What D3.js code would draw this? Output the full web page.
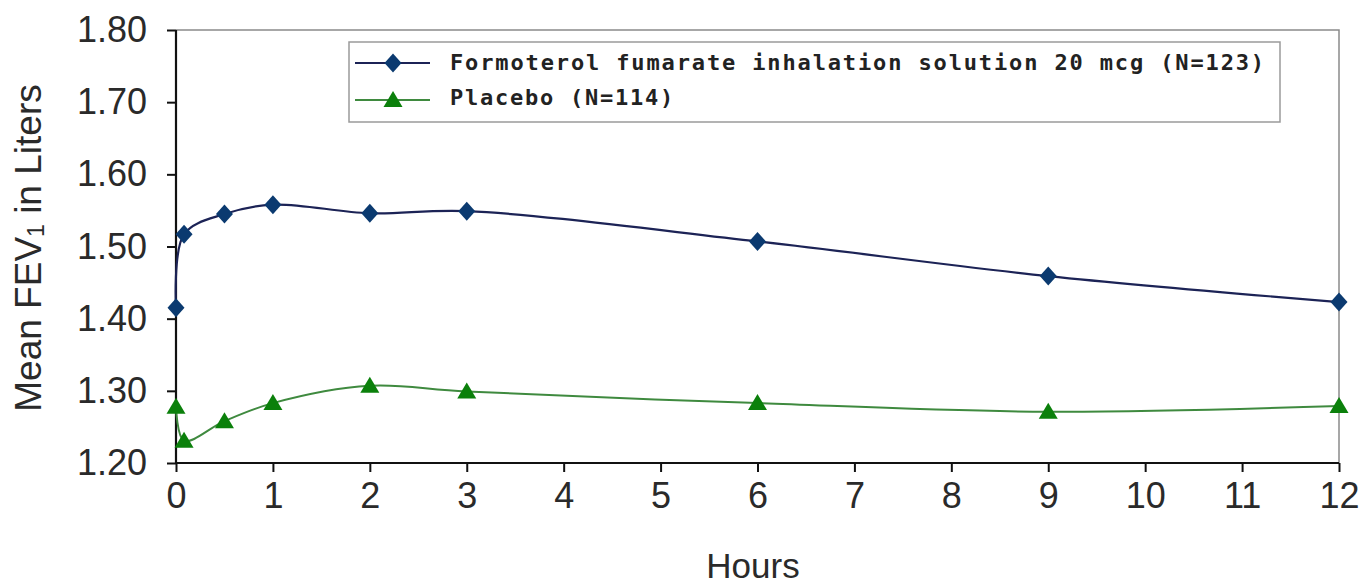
<!DOCTYPE html>
<html><head><meta charset="utf-8">
<script src="https://cdn.jsdelivr.net/npm/d3@7"></script>
<style>body{margin:0;background:#fff}svg{display:block}</style>
</head><body>
<svg id="c" width="1370" height="588"></svg>
<script>
const hours = [0, 0.083, 0.5, 1, 2, 3, 6, 9, 12];
const formoterol = [1.415, 1.517, 1.545, 1.558, 1.546, 1.549, 1.507, 1.459, 1.423];
const placebo = [1.278, 1.231, 1.258, 1.283, 1.307, 1.299, 1.283, 1.271, 1.279];
const xTicks = [0,1,2,3,4,5,6,7,8,9,10,11,12];
const yTicks = [1.20,1.30,1.40,1.50,1.60,1.70,1.80];
const seriesNames = ["Formoterol fumarate inhalation solution 20 mcg (N=123)", "Placebo (N=114)"];

const svg = d3.select("#c");
const L = 176, R = 1339, T = 30, B = 463;
const x = d3.scaleLinear().domain([0,12]).range([L,R]);
const y = d3.scaleLinear().domain([1.2,1.8]).range([B,T]);

svg.append("path").attr("d",`M${L},${T}H${R}V${B}`).attr("fill","none").attr("stroke","#8a8a8a").attr("stroke-width",1.5);

const font = "'Liberation Sans', Arial, sans-serif";
const ya = svg.append("g").attr("transform",`translate(${L},0)`)
  .call(d3.axisLeft(y).tickValues(yTicks).tickFormat(d3.format(".2f")).tickSize(9).tickPadding(20));
const xa = svg.append("g").attr("transform",`translate(0,${B})`)
  .call(d3.axisBottom(x).tickValues(xTicks).tickFormat(d3.format("d")).tickSize(9).tickPadding(10));
[ya,xa].forEach(a=>{
  a.select(".domain").attr("stroke","#111").attr("stroke-width",2.2);
  a.selectAll(".tick line").attr("stroke","#111").attr("stroke-width",2);
  a.selectAll(".tick text").attr("font-family",font).attr("font-size",36).attr("fill","#2a2a2a");
});
ya.select(".domain").attr("d",`M0,${B}V${T}`);
xa.select(".domain").attr("d",`M${L},0H${R}`);

svg.append("text").attr("x",753).attr("y",578).attr("text-anchor","middle")
  .attr("font-family",font).attr("font-size",35).attr("fill","#2a2a2a").text("Hours");
const yt = svg.append("text").attr("transform","translate(41,248) rotate(-90)").attr("text-anchor","middle")
  .attr("font-family",font).attr("font-size",37).attr("fill","#2a2a2a");
yt.append("tspan").text("Mean FEV");
yt.append("tspan").attr("font-size",23).attr("dy",3).text("1");
yt.append("tspan").attr("dy",-3).text(" in Liters");

const curve = d3.curveCatmullRom.alpha(0.5);
const line = d3.line().x(d=>x(d[0])).y(d=>y(d[1])).curve(curve);
const fData = hours.map((h,i)=>[h, formoterol[i]]);
const pData = hours.map((h,i)=>[h, placebo[i]]);
svg.append("path").attr("d",line(fData)).attr("fill","none").attr("stroke","#1c2356").attr("stroke-width",2.2);
svg.append("path").attr("d",line(pData)).attr("fill","none").attr("stroke","#3f8a3f").attr("stroke-width",2);

const diamond = "M0,-9.5L8.5,0L0,9.5L-8.5,0Z";
const tri = "M0,-9L9.5,7H-9.5Z";
svg.selectAll(".fm").data(fData).join("path").attr("class","fm")
  .attr("transform",d=>`translate(${x(d[0])},${y(d[1])})`).attr("d",diamond).attr("fill","#0b3a70");
svg.selectAll(".pm").data(pData).join("path").attr("class","pm")
  .attr("transform",d=>`translate(${x(d[0])},${y(d[1])})`).attr("d",tri).attr("fill","#0b800b");

svg.append("rect").attr("x",349).attr("y",42).attr("width",931).attr("height",80)
  .attr("fill","#fff").attr("stroke","#9a9a9a").attr("stroke-width",1.5);
const lg = [{c:"#1c2356",m:"#0b3a70",s:diamond,y:63,ty:70},{c:"#3f8a3f",m:"#0b800b",s:tri,y:100,ty:105}];
lg.forEach((d,i)=>{
  svg.append("line").attr("x1",355).attr("x2",430).attr("y1",d.y).attr("y2",d.y).attr("stroke",d.c).attr("stroke-width",2.2);
  svg.append("path").attr("transform",`translate(393,${d.y})`).attr("d",d.s).attr("fill",d.m);
  const t = svg.append("text").attr("x",450).attr("y",d.ty).attr("font-family","'DejaVu Sans Mono', monospace")
    .attr("font-weight","bold").attr("font-size",22).attr("fill","#222").text(seriesNames[i]);
  t.attr("textLength", seriesNames[i].length*15.15 - 4).attr("lengthAdjust","spacing");
});
</script>
</body></html>
